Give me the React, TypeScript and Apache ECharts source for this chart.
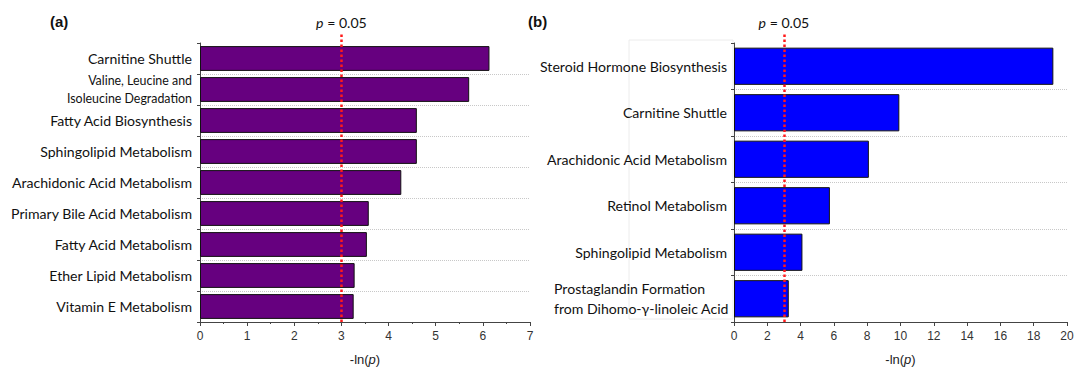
import React, { useEffect, useRef } from "react";
import * as echarts from "echarts";

const catsA = [
  "Carnitine Shuttle",
  "Valine, Leucine and\nIsoleucine Degradation",
  "Fatty Acid Biosynthesis",
  "Sphingolipid Metabolism",
  "Arachidonic Acid Metabolism",
  "Primary Bile Acid Metabolism",
  "Fatty Acid Metabolism",
  "Ether Lipid Metabolism",
  "Vitamin E Metabolism",
];
const valsA = [6.14, 5.71, 4.6, 4.6, 4.27, 3.58, 3.54, 3.28, 3.26];

const catsB = [
  "Steroid Hormone Biosynthesis",
  "Carnitine Shuttle",
  "Arachidonic Acid Metabolism",
  "Retinol Metabolism",
  "Sphingolipid Metabolism",
  "Prostaglandin Formation\nfrom Dihomo-γ-linoleic Acid",
];
const valsB = [19.18, 9.93, 8.1, 5.76, 4.11, 3.29];

const threshold = 2.996; // -ln(0.05)
const axisMaxA = 7;
const axisMaxB = 20;

const LABEL_FONT = "Lato";
const NUM_FONT = "Liberation Sans";
const LABEL_SIZE = 14.1;

export default function App() {
  const ref = useRef<HTMLDivElement>(null);
  useEffect(() => {
    if (!ref.current) return;
    const chart = echarts.init(ref.current, null, { renderer: "svg" });

    const catAxis = (gridIndex: number, cats: string[], mode: "a" | "b") => ({
      type: "category",
      gridIndex,
      data: cats,
      inverse: true,
      axisLine: { show: true, lineStyle: { color: "#444", width: 1 } },
      axisTick: { show: true, length: 3, lineStyle: { color: "#444" } },
      splitLine: {
        show: true,
        showMinLine: false,
        lineStyle: { color: "#c8c8c8", type: "dotted", width: 1 },
      },
      axisLabel: {
        color: "#111",
        fontFamily: LABEL_FONT,
        fontSize: LABEL_SIZE,
        margin: mode === "a" ? 8 : 7,
        formatter: (v: string) => {
          if (!v.includes("\n")) return v;
          const tag = mode === "a" ? "s" : "l";
          return v
            .split("\n")
            .map((l) => `{${tag}|${l}}`)
            .join("\n");
        },
        rich: {
          s: { fontFamily: LABEL_FONT, fontSize: 12.4, lineHeight: 18, color: "#111" },
          l: {
            fontFamily: LABEL_FONT,
            fontSize: LABEL_SIZE,
            lineHeight: 20,
            width: 173,
            align: "left",
            color: "#111",
          },
        },
      },
    });

    const valAxis = (gridIndex: number, max: number, interval: number, minor: boolean) => ({
      type: "value",
      gridIndex,
      min: 0,
      max,
      interval,
      axisLine: { show: true, lineStyle: { color: "#444", width: 1 } },
      axisTick: { show: true, length: 4, lineStyle: { color: "#444" } },
      minorTick: { show: minor, splitNumber: 2, length: 2, lineStyle: { color: "#444" } },
      splitLine: { show: false },
      axisLabel: { color: "#333", fontFamily: NUM_FONT, fontSize: 12, margin: 8 },
      name: "-ln({i|p})",
      nameLocation: "middle",
      nameGap: 31,
      nameTextStyle: {
        fontFamily: NUM_FONT,
        fontSize: 13,
        color: "#222",
        rich: { i: { fontFamily: NUM_FONT, fontSize: 13, fontStyle: "italic", color: "#222" } },
      },
    });

    const hiddenX = (gridIndex: number, max: number) => ({
      type: "value",
      gridIndex,
      min: 0,
      max,
      show: false,
    });
    const hiddenY = (gridIndex: number) => ({
      type: "value",
      gridIndex,
      min: 0,
      max: 1,
      show: false,
    });

    const thresholdLine = (xAxisIndex: number, yAxisIndex: number) => ({
      type: "line",
      xAxisIndex,
      yAxisIndex,
      data: [],
      z: 10,
      silent: true,
      markLine: {
        symbol: "none",
        silent: true,
        lineStyle: { color: "#ff1a1a", type: [2.5, 2.5], width: 2.5 },
        label: {
          show: true,
          position: "end",
          distance: 4,
          formatter: "{i|p} = 0.05",
          fontFamily: LABEL_FONT,
          fontSize: LABEL_SIZE,
          color: "#111",
          rich: {
            i: { fontFamily: LABEL_FONT, fontSize: LABEL_SIZE, fontStyle: "italic", color: "#111" },
          },
        },
        data: [{ xAxis: threshold }],
      },
    });

    chart.setOption({
      animation: false,
      backgroundColor: "#fff",
      title: [
        {
          text: "(a)",
          left: 45,
          top: 9,
          textStyle: { fontFamily: NUM_FONT, fontSize: 15, fontWeight: "bold", color: "#111" },
        },
        {
          text: "(b)",
          left: 523,
          top: 9,
          textStyle: { fontFamily: NUM_FONT, fontSize: 15, fontWeight: "bold", color: "#111" },
        },
      ],
      grid: [
        { left: 200, right: 552, top: 43, bottom: 56 },
        { left: 200, right: 552, top: 33, bottom: 56 },
        { left: 734, right: 15, top: 43, bottom: 56 },
        { left: 734, right: 15, top: 33, bottom: 56 },
      ],
      xAxis: [
        valAxis(0, axisMaxA, 1, true),
        hiddenX(1, axisMaxA),
        valAxis(2, axisMaxB, 2, false),
        hiddenX(3, axisMaxB),
      ],
      yAxis: [catAxis(0, catsA, "a"), hiddenY(1), catAxis(2, catsB, "b"), hiddenY(3)],
      graphic: [
        {
          type: "rect",
          shape: { x: 629, y: 40, width: 104, height: 279 },
          style: { fill: "none", stroke: "#ececec", lineWidth: 1 },
          z: -1,
          silent: true,
        },
      ],
      series: [
        {
          type: "bar",
          xAxisIndex: 0,
          yAxisIndex: 0,
          data: valsA,
          barCategoryGap: "20%",
          itemStyle: { color: "#66007f", borderColor: "#111", borderWidth: 1 },
        },
        thresholdLine(1, 1),
        {
          type: "bar",
          xAxisIndex: 2,
          yAxisIndex: 2,
          data: valsB,
          barCategoryGap: "20%",
          itemStyle: { color: "#0000ff", borderColor: "#111", borderWidth: 1 },
        },
        thresholdLine(3, 3),
      ],
    });

    return () => chart.dispose();
  }, []);

  return (
    <div
      ref={ref}
      style={{ position: "fixed", left: 0, top: 0, width: 1082, height: 378, background: "#fff" }}
    />
  );
}
